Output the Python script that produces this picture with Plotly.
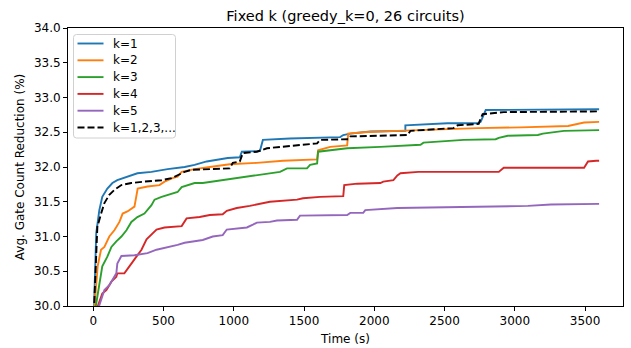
import plotly.graph_objects as go

# Best-so-far average gate count reduction (%) over wall-clock time (s)
k1_t = [4, 21, 43, 64, 100, 136, 171, 243, 314, 414, 529, 650, 721, 807, 957, 1043, 1057, 1186, 1207,
        1400, 1686, 1757, 1779, 1829, 1971, 2221, 2221, 2521, 2736, 2757, 2793, 3600]
k1_v = [29.9, 31.05, 31.38, 31.57, 31.69, 31.77, 31.81, 31.86, 31.91, 31.93, 31.97, 32.0, 32.03, 32.08,
        32.13, 32.14, 32.22, 32.23, 32.39, 32.41, 32.42, 32.43, 32.46, 32.48, 32.51, 32.52, 32.60, 32.63,
        32.63, 32.65, 32.82, 32.83]

k2_t = [5, 31, 55, 79, 114, 150, 186, 209, 243, 293, 316, 386, 471, 507, 564, 600, 629, 721, 829, 971,
        1164, 1350, 1593, 1600, 1686, 1807, 1814, 1921, 2164, 2400, 2736, 3043, 3379, 3493, 3600]
k2_v = [29.9, 30.57, 30.81, 30.85, 31.0, 31.09, 31.21, 31.33, 31.36, 31.43, 31.69, 31.72, 31.74, 31.79,
        31.84, 31.86, 31.93, 31.97, 32.0, 32.04, 32.06, 32.09, 32.11, 32.24, 32.29, 32.31, 32.48, 32.50,
        32.52, 32.54, 32.56, 32.57, 32.59, 32.64, 32.65]

k3_t = [10, 43, 64, 100, 129, 164, 200, 236, 271, 314, 364, 414, 436, 486, 557, 600, 629, 671, 721, 779,
        921, 1136, 1207, 1329, 1379, 1521, 1543, 1593, 1600, 1686, 1807, 2043, 2329, 2350, 2636, 2864,
        2886, 2950, 3164, 3200, 3350, 3600]
k3_v = [29.9, 30.33, 30.57, 30.71, 30.85, 30.93, 31.0, 31.09, 31.21, 31.28, 31.33, 31.45, 31.53, 31.57,
        31.62, 31.64, 31.71, 31.74, 31.77, 31.77, 31.81, 31.87, 31.90, 31.93, 31.98, 31.98, 32.03, 32.05,
        32.22, 32.24, 32.27, 32.29, 32.32, 32.35, 32.39, 32.40, 32.42, 32.45, 32.46, 32.48, 32.52, 32.53]

k4_t = [15, 64, 93, 129, 164, 171, 221, 243, 271, 307, 343, 379, 421, 450, 507, 629, 664, 757, 829, 921,
        950, 1021, 1114, 1186, 1257, 1450, 1493, 1614, 1779, 1786, 1879, 2043, 2064, 2136, 2164, 2186,
        2314, 2886, 2921, 3493, 3521, 3579, 3600]
k4_v = [29.9, 30.18, 30.23, 30.35, 30.42, 30.47, 30.47, 30.54, 30.61, 30.71, 30.81, 30.96, 31.05, 31.10,
        31.13, 31.15, 31.26, 31.28, 31.31, 31.32, 31.37, 31.41, 31.44, 31.47, 31.50, 31.53, 31.55, 31.57,
        31.58, 31.74, 31.76, 31.77, 31.79, 31.81, 31.88, 31.91, 31.93, 31.93, 31.99, 31.99, 32.08, 32.09,
        32.09]

k5_t = [25, 79, 114, 136, 164, 171, 200, 293, 386, 450, 543, 600, 650, 721, 779, 850, 921, 950, 1021,
        1093, 1136, 1164, 1257, 1307, 1450, 1471, 1807, 1829, 1921, 1936, 2164, 2400, 2686, 3093, 3257,
        3600]
k5_v = [29.9, 30.23, 30.30, 30.37, 30.47, 30.61, 30.72, 30.73, 30.76, 30.81, 30.85, 30.88, 30.91, 30.93,
        30.95, 31.0, 31.02, 31.10, 31.12, 31.13, 31.17, 31.20, 31.21, 31.23, 31.24, 31.30, 31.31, 31.34,
        31.34, 31.38, 31.41, 31.42, 31.43, 31.44, 31.46, 31.47]

kall_t = [4, 21, 29, 57, 79, 114, 150, 200, 271, 364, 486, 557, 600, 650, 700, 971, 993, 1043, 1064,
          1164, 1236, 1400, 1593, 1614, 1814, 1829, 2236, 2257, 2564, 2593, 2743, 2757, 2771, 2921, 3600]
kall_v = [29.9, 30.81, 31.14, 31.34, 31.48, 31.6, 31.67, 31.74, 31.77, 31.79, 31.81, 31.84, 31.88, 31.93,
          31.96, 31.98, 32.06, 32.08, 32.20, 32.22, 32.27, 32.30, 32.34, 32.39, 32.40, 32.44, 32.46, 32.52,
          32.56, 32.60, 32.62, 32.70, 32.76, 32.79, 32.80]

series = [
    ("k=1", k1_t, k1_v, "#1f77b4", "solid"),
    ("k=2", k2_t, k2_v, "#ff7f0e", "solid"),
    ("k=3", k3_t, k3_v, "#2ca02c", "solid"),
    ("k=4", k4_t, k4_v, "#d62728", "solid"),
    ("k=5", k5_t, k5_v, "#9467bd", "solid"),
    ("k=1,2,3,...", kall_t, kall_v, "black", "7px,3px"),
]

x_ticks = [0, 500, 1000, 1500, 2000, 2500, 3000, 3500]
y_ticks = [30.0, 30.5, 31.0, 31.5, 32.0, 32.5, 33.0, 33.5, 34.0]

FONT = "DejaVu Sans"
W, H = 631, 348
ML, MR, MT, MB = 68, 8, 28, 42
PW, PH = W - ML - MR, H - MT - MB


def px_x(px):
    """Pixel column -> paper x."""
    return (px - ML) / PW


def px_y(py):
    """Pixel row -> paper y."""
    return 1 - (py - MT) / PH


fig = go.Figure()
for name, t, v, color, dash in series:
    fig.add_trace(go.Scatter(
        x=t, y=v, mode="lines", name=name, showlegend=False,
        line=dict(color=color, width=1.9, dash=dash),
    ))

# Compact legend box (rounded frame, line samples and labels) in the upper-left corner
bx0, by0, bx1, by1, r = 73.5, 34.5, 175.5, 138.0, 3
path = (
    f"M {px_x(bx0 + r)},{px_y(by0)} L {px_x(bx1 - r)},{px_y(by0)} "
    f"Q {px_x(bx1)},{px_y(by0)} {px_x(bx1)},{px_y(by0 + r)} "
    f"L {px_x(bx1)},{px_y(by1 - r)} Q {px_x(bx1)},{px_y(by1)} {px_x(bx1 - r)},{px_y(by1)} "
    f"L {px_x(bx0 + r)},{px_y(by1)} Q {px_x(bx0)},{px_y(by1)} {px_x(bx0)},{px_y(by1 - r)} "
    f"L {px_x(bx0)},{px_y(by0 + r)} Q {px_x(bx0)},{px_y(by0)} {px_x(bx0 + r)},{px_y(by0)} Z"
)
shapes = [dict(type="path", xref="paper", yref="paper", path=path,
               fillcolor="rgba(255,255,255,0.8)", line=dict(color="#d0d0d0", width=1), layer="above")]
annotations = []
row0, row_gap = 43.5, 16.8
for i, (name, _, _, color, dash) in enumerate(series):
    ry = row0 + i * row_gap
    shapes.append(dict(type="line", xref="paper", yref="paper",
                       x0=px_x(77.5), x1=px_x(103.5), y0=px_y(ry), y1=px_y(ry),
                       line=dict(color=color, width=1.9, dash=dash), layer="above"))
    annotations.append(dict(text=name, xref="paper", yref="paper",
                            x=px_x(110.5), y=px_y(ry), xanchor="left", yanchor="middle",
                            showarrow=False, font=dict(family=FONT, size=12, color="black")))

axis_common = dict(
    showline=True, linecolor="black", linewidth=1, mirror=True,
    ticks="outside", ticklen=4, tickwidth=1, tickcolor="black",
    showgrid=False, zeroline=False, automargin=False,
    tickfont=dict(family=FONT, size=12, color="black"),
)

fig.update_layout(
    width=W, height=H,
    margin=dict(l=ML, r=MR, t=MT, b=MB),
    paper_bgcolor="white", plot_bgcolor="white",
    font=dict(family=FONT, size=12, color="black"),
    title=dict(
        text="Fixed k (greedy_k=0, 26 circuits)",
        x=0.5, xref="paper", xanchor="center",
        y=1 - 16 / H, yref="container", yanchor="middle",
        font=dict(family=FONT, size=14.5, color="black"),
    ),
    xaxis=dict(
        range=[-180, 3770], tickvals=x_ticks,
        ticktext=[str(t) for t in x_ticks],
        title=dict(text="Time (s)", font=dict(family=FONT, size=12), standoff=7),
        **axis_common,
    ),
    yaxis=dict(
        range=[30, 34], tickvals=y_ticks,
        ticktext=[f"{t:.1f}" for t in y_ticks],
        title=dict(text="Avg. Gate Count Reduction (%)", font=dict(family=FONT, size=12), standoff=6),
        **axis_common,
    ),
    shapes=shapes,
    annotations=annotations,
    showlegend=False,
)

fig.write_html("out.html")
